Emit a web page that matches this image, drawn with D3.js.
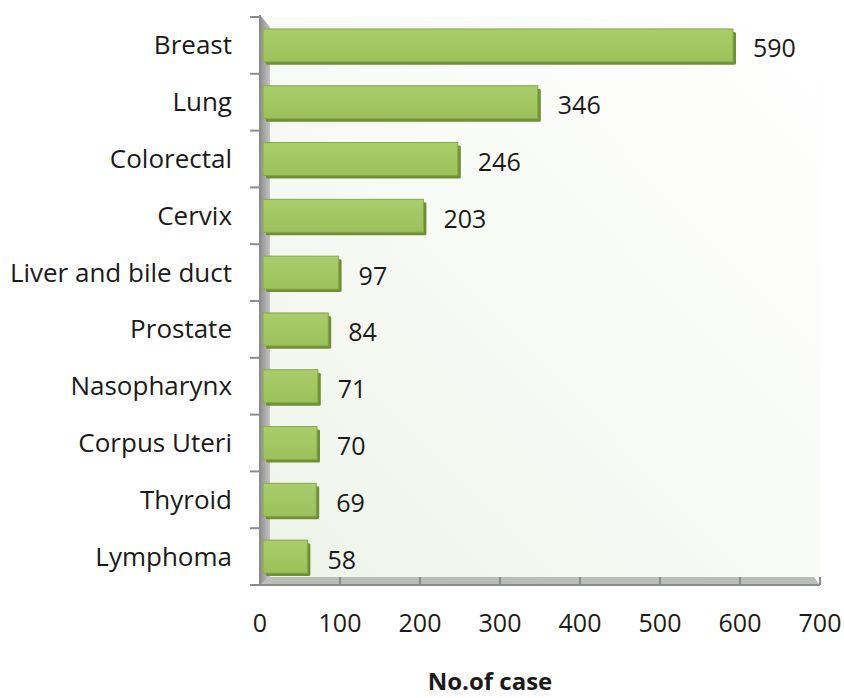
<!DOCTYPE html>
<html>
<head>
<meta charset="utf-8">
<script src="https://cdn.jsdelivr.net/npm/d3@7"></script>
<style>
  body { margin: 0; background: #fff; }
  text { font-family: "Open Sans", "DejaVu Sans", sans-serif; fill: #1a1a1a; }
</style>
</head>
<body>
<script>
var categories = ["Breast", "Lung", "Colorectal", "Cervix", "Liver and bile duct",
  "Prostate", "Nasopharynx", "Corpus Uteri", "Thyroid", "Lymphoma"];
var cases = [590, 346, 246, 203, 97, 84, 71, 70, 69, 58];
var xTicks = [0, 100, 200, 300, 400, 500, 600, 700];

var width = 844, height = 698;
var depth = 8;

var svg = d3.select("body").append("svg")
  .attr("width", width)
  .attr("height", height);

var xScale = d3.scaleLinear().domain([0, 700]).range([260, 820]);
var yScale = d3.scaleBand().domain(categories).range([17, 585]).paddingInner(0.42).paddingOuter(0.21);

var defs = svg.append("defs");
var wallGrad = defs.append("linearGradient").attr("id", "wall")
  .attr("x1", "100%").attr("y1", "0%").attr("x2", "0%").attr("y2", "100%");
wallGrad.append("stop").attr("offset", "0%").attr("stop-color", "#ffffff");
wallGrad.append("stop").attr("offset", "45%").attr("stop-color", "#f9fbf7");
wallGrad.append("stop").attr("offset", "100%").attr("stop-color", "#eef4ea");

var sideGrad = defs.append("linearGradient").attr("id", "side")
  .attr("x1", "0%").attr("y1", "0%").attr("x2", "100%").attr("y2", "0%");
sideGrad.append("stop").attr("offset", "0%").attr("stop-color", "#8f8f8f");
sideGrad.append("stop").attr("offset", "100%").attr("stop-color", "#c4c4c4");

var barGrad = defs.append("linearGradient").attr("id", "bar")
  .attr("x1", "0%").attr("y1", "0%").attr("x2", "0%").attr("y2", "100%");
barGrad.append("stop").attr("offset", "0%").attr("stop-color", "#a8cd6a");
barGrad.append("stop").attr("offset", "100%").attr("stop-color", "#9cc15c");

var x0 = xScale(0), y0 = yScale.range()[0], yEnd = yScale.range()[1];

// back wall
svg.append("rect")
  .attr("x", x0 + depth + 2).attr("y", y0)
  .attr("width", xScale(700) - x0 - depth - 2)
  .attr("height", yEnd - depth - y0)
  .attr("fill", "url(#wall)");

// left side wall
svg.append("path")
  .attr("d", "M" + x0 + "," + (y0 - 2) + "L" + (x0 + depth + 2) + "," + (y0 + 10) +
    "L" + (x0 + depth + 2) + "," + (yEnd - depth) + "L" + x0 + "," + yEnd + "Z")
  .attr("fill", "url(#side)");

// floor
svg.append("path")
  .attr("d", "M" + x0 + "," + yEnd + "L" + (x0 + depth + 2) + "," + (yEnd - depth) +
    "L" + (xScale(700) - 6) + "," + (yEnd - depth) + "L" + xScale(700) + "," + yEnd + "Z")
  .attr("fill", "#bbbdb8");

// axis lines
svg.append("line")
  .attr("x1", x0).attr("x2", xScale(700))
  .attr("y1", yEnd).attr("y2", yEnd)
  .attr("stroke", "#8c8c8c").attr("stroke-width", 2);
svg.append("line")
  .attr("x1", x0).attr("x2", x0)
  .attr("y1", y0 - 2).attr("y2", yEnd)
  .attr("stroke", "#8c8c8c").attr("stroke-width", 2);

// category ticks
var catTicks = d3.range(categories.length + 1).map(function(i) {
  return y0 + i * yScale.step();
});
svg.selectAll(".ctick").data(catTicks).enter().append("line")
  .attr("x1", x0 - 10).attr("x2", x0)
  .attr("y1", function(d) { return d; }).attr("y2", function(d) { return d; })
  .attr("stroke", "#8c8c8c").attr("stroke-width", 2);

// value ticks on floor
svg.selectAll(".vtick").data(xTicks).enter().append("line")
  .attr("x1", function(d) { return xScale(d); })
  .attr("x2", function(d) { return xScale(d); })
  .attr("y1", yEnd - depth).attr("y2", yEnd)
  .attr("stroke", "#8c8c8c").attr("stroke-width", 2);

// x tick labels
svg.selectAll(".xlab").data(xTicks).enter().append("text")
  .attr("x", function(d) { return xScale(d); })
  .attr("y", 632)
  .attr("text-anchor", "middle")
  .style("font-size", "25px")
  .text(function(d) { return d; });

// category labels
svg.selectAll(".clab").data(categories).enter().append("text")
  .attr("x", 232)
  .attr("y", function(d) { return yScale(d) + yScale.bandwidth() / 2 + 9; })
  .attr("text-anchor", "end")
  .style("font-size", "26px")
  .text(function(d) { return d; });

var data = categories.map(function(c, i) { return { name: c, value: cases[i] }; });

// bars: 3D shadow side then face
var bars = svg.selectAll(".bar").data(data).enter().append("g");
bars.append("rect")
  .attr("x", x0 + 6)
  .attr("y", function(d) { return yScale(d.name) + 3; })
  .attr("width", function(d) { return xScale(d.value) - x0 - 2; })
  .attr("height", yScale.bandwidth())
  .attr("fill", "#6f8f35")
  .attr("rx", 1.5);
bars.append("rect")
  .attr("x", x0 + 3)
  .attr("y", function(d) { return yScale(d.name); })
  .attr("width", function(d) { return xScale(d.value) - x0 - 2; })
  .attr("height", yScale.bandwidth())
  .attr("fill", "url(#bar)")
  .attr("stroke", "#87a84a")
  .attr("stroke-width", 1);

// value labels
svg.selectAll(".vlab").data(data).enter().append("text")
  .attr("x", function(d) { return xScale(d.value) + 21; })
  .attr("y", function(d) { return yScale(d.name) + yScale.bandwidth() / 2 + 12; })
  .style("font-size", "25px")
  .text(function(d) { return d.value; });

// axis title
svg.append("text")
  .attr("x", 490).attr("y", 690)
  .attr("text-anchor", "middle")
  .style("font-size", "24px")
  .style("font-weight", "bold")
  .text("No.of case");
</script>
</body>
</html>
